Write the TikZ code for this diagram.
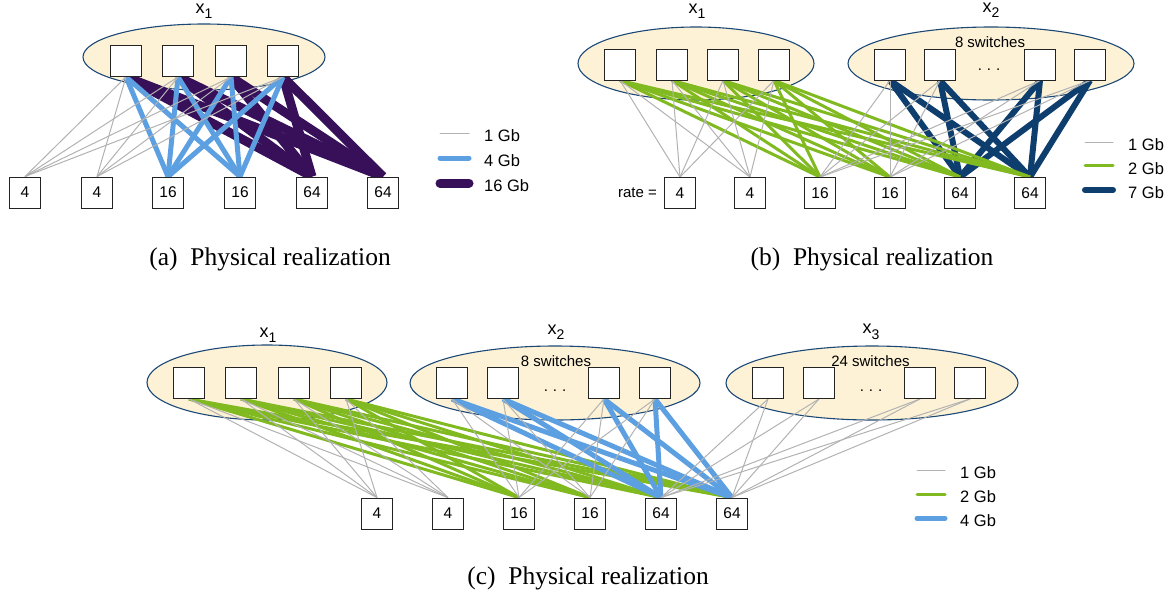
\documentclass[tikz,border=0pt]{standalone}
\usepackage{fontspec}
\newfontfamily\diagfont{Liberation Sans}
\newfontfamily\capfont{Liberation Serif}
\usetikzlibrary{shapes.geometric}

\definecolor{groupfill}{RGB}{253,242,214}
\definecolor{groupline}{RGB}{28,72,118}
\definecolor{boxline}{RGB}{35,35,35}
\definecolor{linkgray}{RGB}{178,178,178}
\definecolor{linkblue}{RGB}{92,160,226}
\definecolor{linkpurple}{RGB}{56,16,90}
\definecolor{linkgreen}{RGB}{128,186,32}
\definecolor{linknavy}{RGB}{14,62,110}

\pgfdeclarelayer{back}
\pgfdeclarelayer{links}
\pgfsetlayers{back,links,main}

% lowered index digit of a group name
\newcommand\grpsub[1]{\raisebox{-5.5pt}{\fontsize{14}{14}\selectfont #1}}

\tikzset{
  swbox/.style={draw=boxline, fill=white, line width=0.9pt, minimum width=31pt,
    minimum height=31pt, inner sep=0pt, font=\diagfont\fontsize{15.5}{15.5}\selectfont},
  group/.style={ellipse, draw=groupline, fill=groupfill, line width=1.1pt,
    inner sep=0pt, outer sep=0pt},
  lbl/.style={font=\diagfont\fontsize{15}{18}\selectfont, inner sep=0pt},
  grplbl/.style={font=\diagfont\fontsize{18}{18}\selectfont, inner sep=0pt},
  keytext/.style={font=\diagfont\fontsize{16.5}{18}\selectfont, anchor=west, inner sep=0pt},
  captext/.style={font=\capfont\fontsize{25.5}{28}\selectfont, inner sep=0pt},
  keyline/.style={line cap=round},
  gb1/.style={draw=linkgray, line width=1pt},
  blue4/.style={draw=linkblue, line width=5pt},
  purple16/.style={draw=linkpurple, line width=9pt},
  green2/.style={draw=linkgreen, line width=3pt},
  navy7/.style={draw=linknavy, line width=6pt},
}

\begin{document}
\begin{tikzpicture}[x=1pt,y=-1pt]
\useasboundingbox (0,0) rectangle (1174,598);

% ================= (a) one group of 4 switches =================
\begin{pgfonlayer}{back}
  \node[group, minimum width=242pt, minimum height=66pt] (ga) at (204,57) {};
\end{pgfonlayer}
\node[grplbl] (ga-name) at (204,11) {x\grpsub{1}};
\foreach \i/\x in {1/126,2/178,3/231,4/283}
  \node[swbox] (sa\i) at (\x,61) {};
\foreach \i/\x/\r in {1/25/4,2/97/4,3/168/16,4/240/16,5/312/64,6/383/64}
  \node[swbox] (ha\i) at (\x,192.5) {\r};

\begin{pgfonlayer}{links}
  \foreach \s in {1,...,4}
    \foreach \h in {5,6} \draw[purple16] (sa\s.south) -- (ha\h.north);
  \foreach \s in {1,...,4}
    \foreach \h in {3,4} \draw[blue4] (sa\s.south) -- (ha\h.north);
  \foreach \s in {1,...,4}
    \foreach \h in {1,2} \draw[gb1] (sa\s.south) -- (ha\h.north);
\end{pgfonlayer}

\node[keytext] (ka1) at (484,135.5) {1 Gb};
\node[keytext] (ka2) at (484,161) {4 Gb};
\node[keytext] (ka3) at (484,186) {16 Gb};
\draw[gb1, keyline] (440,133) -- (469,133);
\draw[blue4, keyline] (440,158) -- (469,158);
\draw[purple16, keyline] (440,183) -- (469,183);

\node[captext] (capa) at (270,259) {(a)\enspace Physical realization};

% ================= (b) two groups =================
\begin{pgfonlayer}{back}
  \node[group, minimum width=236pt, minimum height=73pt] (gb1) at (696,63.5) {};
  \node[group, minimum width=286pt, minimum height=73pt] (gb2) at (991,63.5) {};
\end{pgfonlayer}
\node[grplbl] (gb1-name) at (697,11) {x\grpsub{1}};
\node[grplbl] (gb2-name) at (991,10) {x\grpsub{2}};
\node[lbl, anchor=base] (gb2-count) at (990,47) {8 switches};
\node[lbl, anchor=base] (gb2-dots) at (989,70) {.\,\,.\,\,.};
\foreach \i/\x in {1/620,2/672,3/723,4/774}
  \node[swbox] (sb\i) at (\x,64.5) {};
\foreach \i/\x in {1/890,2/940,3/1040,4/1090}
  \node[swbox] (tb\i) at (\x,64.5) {};
\foreach \i/\x/\r in {1/680/4,2/750/4,3/820/16,4/890/16,5/960/64,6/1030/64}
  \node[swbox] (hb\i) at (\x,193) {\r};
\node[lbl, anchor=east] (rate) at ([xshift=-7pt]hb1.west) {rate =};

\begin{pgfonlayer}{links}
  \foreach \s in {1,...,4}
    \foreach \h in {5,6} \draw[navy7] (tb\s.south) -- (hb\h.north);
  \foreach \s in {1,...,4}
    \foreach \h in {3,...,6} \draw[green2] (sb\s.south) -- (hb\h.north);
  \foreach \s in {1,...,4}
    \foreach \h in {1,2} \draw[gb1] (sb\s.south) -- (hb\h.north);
  \foreach \s in {1,...,4}
    \foreach \h in {3,4} \draw[gb1] (tb\s.south) -- (hb\h.north);
\end{pgfonlayer}

\node[keytext] (kb1) at (1128,145) {1 Gb};
\node[keytext] (kb2) at (1128,168.5) {2 Gb};
\node[keytext] (kb3) at (1128,193) {7 Gb};
\draw[gb1, keyline] (1085,142.7) -- (1113,142.7);
\draw[green2, keyline] (1085,165.7) -- (1113,165.7);
\draw[navy7, keyline] (1085,190) -- (1113,190);

\node[captext] (capb) at (872,259) {(b)\enspace Physical realization};

% ================= (c) three groups =================
\begin{pgfonlayer}{back}
  \node[group, minimum width=240pt, minimum height=75pt] (gc1) at (267,382.5) {};
  \node[group, minimum width=290pt, minimum height=74pt] (gc2) at (555,383) {};
  \node[group, minimum width=292pt, minimum height=74pt] (gc3) at (872,383) {};
\end{pgfonlayer}
\node[grplbl] (gc1-name) at (268,335) {x\grpsub{1}};
\node[grplbl] (gc2-name) at (556,332) {x\grpsub{2}};
\node[grplbl] (gc3-name) at (871,332) {x\grpsub{3}};
\node[lbl, anchor=base] (gc2-count) at (556,366) {8 switches};
\node[lbl, anchor=base] (gc3-count) at (870.5,366) {24 switches};
\node[lbl, anchor=base] (gc2-dots) at (555,391) {.\,\,.\,\,.};
\node[lbl, anchor=base] (gc3-dots) at (871,391) {.\,\,.\,\,.};
\foreach \i/\x in {1/189,2/241,3/294,4/346}
  \node[swbox] (sc\i) at (\x,383) {};
\foreach \i/\x in {1/452,2/503,3/604,4/655}
  \node[swbox] (tc\i) at (\x,383) {};
\foreach \i/\x in {1/768,2/819,3/920,4/970}
  \node[swbox] (uc\i) at (\x,383) {};
\foreach \i/\x/\r in {1/377/4,2/448/4,3/519/16,4/590/16,5/661/64,6/732/64}
  \node[swbox] (hc\i) at (\x,513.5) {\r};

\begin{pgfonlayer}{links}
  \foreach \s in {1,...,4}
    \foreach \h in {3,...,6} \draw[green2] (sc\s.south) -- (hc\h.north);
  \foreach \s in {1,...,4}
    \foreach \h in {5,6} \draw[blue4] (tc\s.south) -- (hc\h.north);
  \foreach \s in {1,...,4}
    \foreach \h in {1,2} \draw[gb1] (sc\s.south) -- (hc\h.north);
  \foreach \s in {1,...,4}
    \foreach \h in {3,4} \draw[gb1] (tc\s.south) -- (hc\h.north);
  \foreach \s in {1,...,4}
    \foreach \h in {5,6} \draw[gb1] (uc\s.south) -- (hc\h.north);
\end{pgfonlayer}

\node[keytext] (kc1) at (960,472.5) {1 Gb};
\node[keytext] (kc2) at (960,497) {2 Gb};
\node[keytext] (kc3) at (960,521) {4 Gb};
\draw[gb1, keyline] (917,470) -- (945,470);
\draw[green2, keyline] (917,494.3) -- (945,494.3);
\draw[blue4, keyline] (917,518.3) -- (945,518.3);

\node[captext] (capc) at (588,578) {(c)\enspace Physical realization};
\end{tikzpicture}
\end{document}
